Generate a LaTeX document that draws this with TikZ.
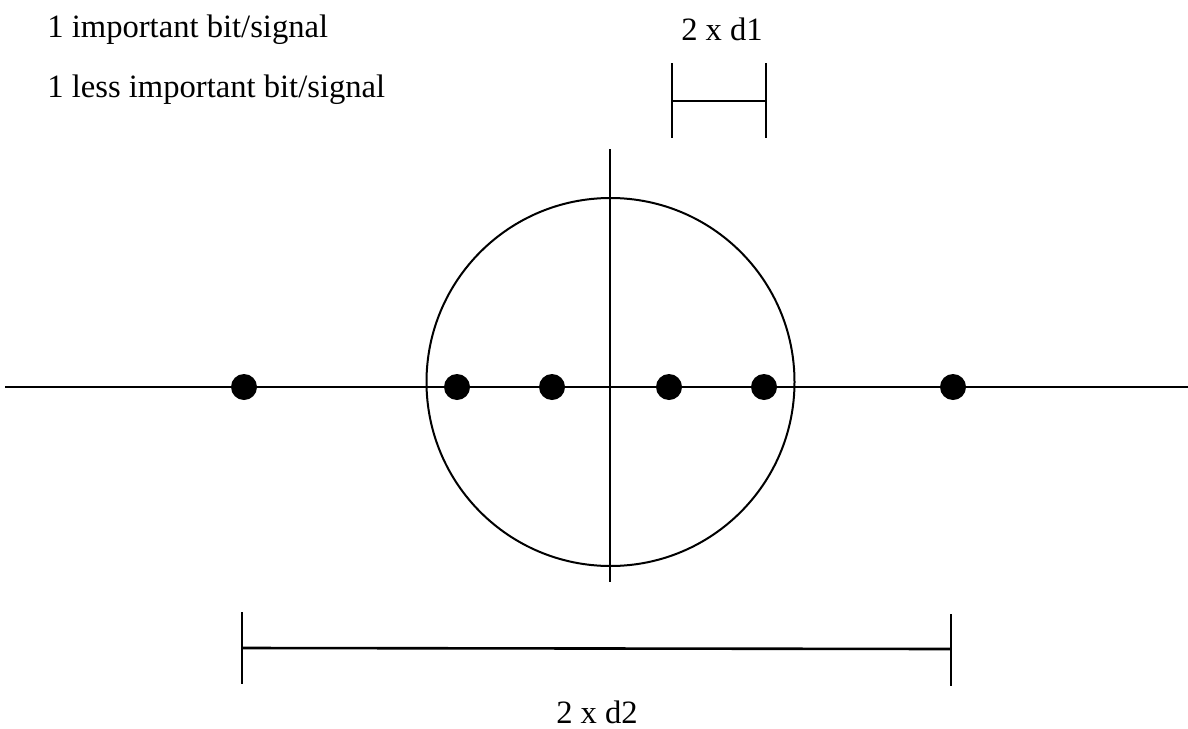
\documentclass[tikz,border=0pt]{standalone}
\usepackage{fontspec}
\setmainfont{Liberation Serif}
\usetikzlibrary{positioning}

\begin{document}
\begin{tikzpicture}[
    x=0.5pt, y=-0.5pt,
    every node/.style={font=\fontsize{16.3}{19}\selectfont, inner sep=0pt},
    axis/.style={draw=black, line width=1pt},
    ring/.style={draw=black, circle, line width=1pt, minimum size=184pt},
    dot/.style={circle, fill=black, minimum size=13pt, inner sep=0pt},
    dim/.style={draw=black, line width=1.3pt},
    lbl/.style={anchor=base}
  ]
    \useasboundingbox (0,0) rectangle (1188,728);

    % legend text
    \node[anchor=base west] (imp) at (47,37) {1 important bit/signal};
    \node[anchor=base west] (less) at (47,97) {1 less important bit/signal};

    % axes and decision circle
    \coordinate (W) at (5,387);
    \coordinate (E) at (1188,387);
    \coordinate (N) at (610,149);
    \coordinate (S) at (610,582);
    \draw[axis] (W) -- (E);
    \draw[axis] (N) -- (S);
    \node[ring] (C) at (610.5,382) {};

    % signal points
    \foreach \x/\n in {244/p1,457/p2,552/p3,669/p4,764/p5,953/p6}
      \node[dot] (\n) at (\x,387) {};

    % 2 x d1
    \coordinate (a1) at (672,63);
    \coordinate (a2) at (672,138);
    \coordinate (b1) at (766,63);
    \coordinate (b2) at (766,138);
    \coordinate (am) at (672,101);
    \coordinate (bm) at (766,101);
    \draw[dim] (a1) -- (a2);
    \draw[dim] (b1) -- (b2);
    \draw[dim] (am) -- (bm);
    \node[lbl] (d1) at (722,40) {2 x d1};

    % 2 x d2
    \coordinate (c1) at (242,612);
    \coordinate (c2) at (242,684);
    \coordinate (e1) at (951,614);
    \coordinate (e2) at (951,686);
    \coordinate (cm) at (242,648);
    \coordinate (em) at (951,649);
    \draw[dim] (c1) -- (c2);
    \draw[dim] (e1) -- (e2);
    \draw[dim] (cm) -- (em);
    \node[lbl] (d2) at (597,723) {2 x d2};
\end{tikzpicture}
\end{document}
